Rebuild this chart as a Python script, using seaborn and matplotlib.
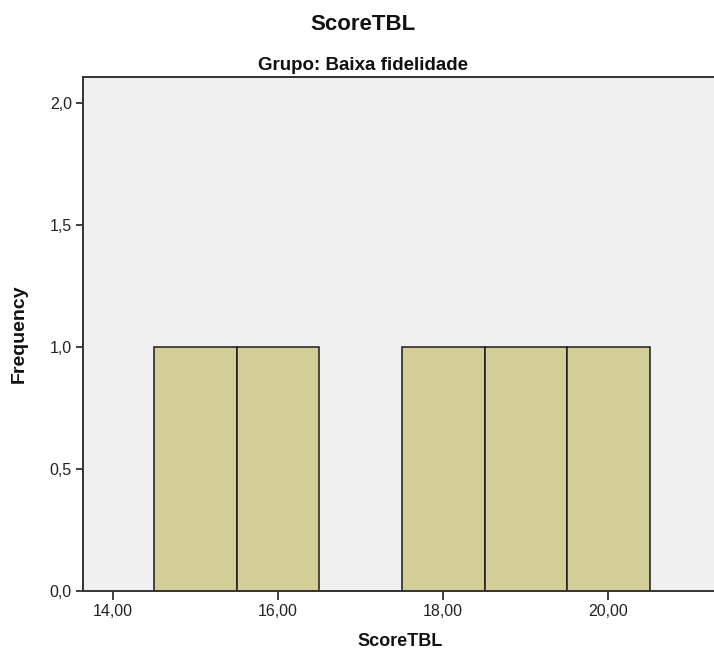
import matplotlib
matplotlib.use("Agg")
import matplotlib.pyplot as plt
from matplotlib.ticker import FuncFormatter
import seaborn as sns
import pandas as pd

# scores observed in the low-fidelity group
scores = [15, 16, 18, 19, 20]
title = "ScoreTBL"
subtitle = "Grupo: Baixa fidelidade"
xlabel = "ScoreTBL"
ylabel = "Frequency"

sns.set_theme(style="white")
plt.rcParams['font.family'] = ['Liberation Sans', 'DejaVu Sans']

df = pd.DataFrame({"ScoreTBL": scores})

fig = plt.figure(figsize=(7.14, 6.51), dpi=100)
ax = fig.add_axes([0.1162, 0.0922, 0.8838, 0.7896])
ax.set_facecolor("#F0F0F0")

sns.histplot(data=df, x="ScoreTBL", binwidth=1, binrange=(14.5, 20.5),
             color="#D3CE97", alpha=1, edgecolor="#1a1a1a", linewidth=1.1, ax=ax)

ax.set_xlim(13.636, 21.28)
ax.set_ylim(0, 2.107)
ax.set_xticks([14, 16, 18, 20])
ax.set_yticks([0, 0.5, 1.0, 1.5, 2.0])
ax.xaxis.set_major_formatter(FuncFormatter(lambda v, p: f"{v:.2f}".replace(".", ",")))
ax.yaxis.set_major_formatter(FuncFormatter(lambda v, p: f"{v:.1f}".replace(".", ",")))
ax.tick_params(axis='x', direction='out', length=6.5, width=1.3, color="#333333",
               labelsize=11.5, pad=3, bottom=True, labelcolor="#222222")
ax.tick_params(axis='y', direction='out', length=5, width=1.3, color="#333333",
               labelsize=11.5, pad=3, left=True, labelcolor="#222222")

for s in ['left', 'bottom', 'top']:
    ax.spines[s].set_color("#333333")
    ax.spines[s].set_linewidth(1.4)
ax.spines['right'].set_visible(False)

ax.set_xlabel(xlabel, fontsize=13, fontweight='bold', color="#111111")
ax.set_ylabel(ylabel, fontsize=14, fontweight='bold', color="#111111")
ax.xaxis.set_label_coords(0.502, -0.082)
ax.yaxis.set_label_coords(-0.087, 0.5)

fig.text(0.508, 0.962, title, fontsize=16, fontweight='bold', ha='center', va='center',
         color="#111111")
fig.text(0.508, 0.9, subtitle, fontsize=13.5, fontweight='bold', ha='center', va='center',
         color="#111111", family=['Liberation Sans Narrow', 'Liberation Sans'])

fig.savefig("out.png", dpi=100)
